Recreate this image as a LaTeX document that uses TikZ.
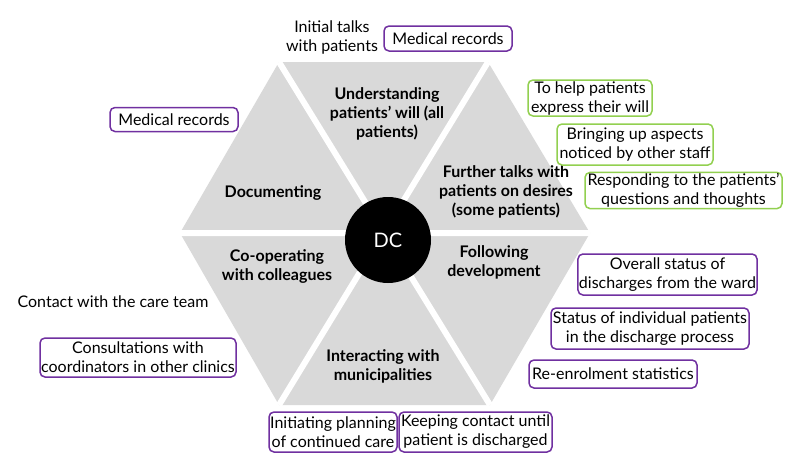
\documentclass[tikz,border=0pt]{standalone}
\usepackage{fontspec}
\setmainfont{Lato}
\definecolor{hexgray}{HTML}{D9D9D9}
\definecolor{ppl}{HTML}{7030A0}
\definecolor{grn}{HTML}{92D050}
\begin{document}
\begin{tikzpicture}[x=1pt,y=-1pt,
  boxbase/.style={draw, line width=1.5pt, rounded corners=5pt, align=center, inner sep=1pt,
    font=\fontsize{16}{19}\selectfont, text=black},
  pbox/.style={boxbase, draw=ppl},
  gbox/.style={boxbase, draw=grn},
  plain/.style={align=center, inner sep=0pt, font=\fontsize{16}{19}\selectfont},
  lbl/.style={align=center, inner sep=0pt, font=\bfseries\fontsize{16}{19}\selectfont},
  gapline/.style={white, line width=6pt}]
\useasboundingbox (0,0) rectangle (800,463);
\fill[white] (0,0) rectangle (800,463);
% hexagon
\coordinate (O) at (385,233);
\coordinate (V0) at (590,233);
\coordinate (V1) at (488,62);
\coordinate (V2) at (279,62);
\coordinate (V3) at (180,233);
\coordinate (V4) at (279,405);
\coordinate (V5) at (490,405);
\fill[hexgray] (V0)--(V1)--(V2)--(V3)--(V4)--(V5)--cycle;
\draw[gapline] (V0)--(V3) (V1)--(V4) (V2)--(V5);
\node[circle, fill=black, minimum size=86pt, inner sep=0pt, text=white,
  font=\fontsize{20}{22}\selectfont] (dc) at (388,240) {DC};
% segment labels
\node[lbl] (und) at (387,114) {Understanding\\patients’ will (all\\patients)};
\node[lbl] (doc) at (273,193) {Documenting};
\node[lbl] (fur) at (506,192) {Further talks with\\patients on desires\\(some patients)};
\node[lbl] (coop) at (277,266.5) {Co-operating\\with colleagues};
\node[lbl] (fol) at (494,262.5) {Following\\development};
\node[lbl] (int) at (383,366) {Interacting with\\municipalities};
% plain texts
\node[plain] (init) at (332,37) {Initial talks\\with patients};
\node[plain] (cont) at (113,302) {Contact with the care team};
% purple boxes
\node[pbox, minimum width=128pt, minimum height=25pt] (mr1) at (448,38.5) {Medical records};
\node[pbox, minimum width=128pt, minimum height=24pt] (mr2) at (174,119.5) {Medical records};
\node[pbox, minimum width=177pt, minimum height=41pt] (ov) at (667.5,274.5) {Overall status of\\discharges from the ward};
\node[pbox, minimum width=198pt, minimum height=41pt] (st) at (650,328.5) {Status of individual patients\\in the discharge process};
\node[pbox, minimum width=168pt, minimum height=28pt] (re) at (613,374) {Re-enrolment statistics};
\node[pbox, minimum width=196pt, minimum height=39pt] (cons) at (138,357.5) {Consultations with\\coordinators in other clinics};
\node[pbox, minimum width=128pt, minimum height=40pt] (ini) at (333,432) {Initiating planning\\of continued care};
\node[pbox, minimum width=153pt, minimum height=40pt] (keep) at (475.5,432) {Keeping contact until\\patient is discharged};
% green boxes
\node[gbox, minimum width=124pt, minimum height=36pt] (help) at (590,98) {To help patients\\express their will};
\node[gbox, minimum width=156pt, minimum height=41pt] (bring) at (635,144.5) {Bringing up aspects\\noticed by other staff};
\node[gbox, minimum width=197pt, minimum height=35pt] (resp) at (683.5,190.5) {Responding to the patients’\\questions and thoughts};
\end{tikzpicture}
\end{document}
